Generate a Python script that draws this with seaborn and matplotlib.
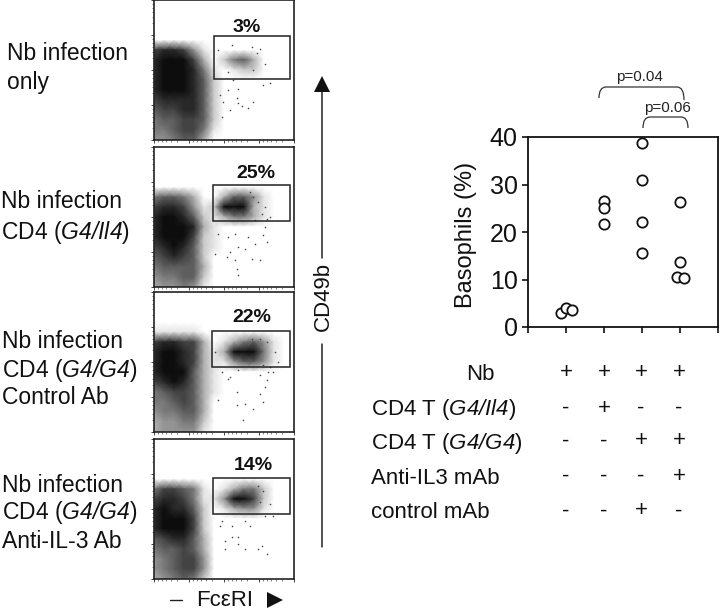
import numpy as np
import pandas as pd
import matplotlib
matplotlib.use("Agg")
import matplotlib.pyplot as plt
from matplotlib.path import Path
from matplotlib.patches import PathPatch, Rectangle
import seaborn as sns

sns.set_theme(style="white")
plt.rcParams["font.family"] = ["Liberation Sans", "DejaVu Sans"]
plt.rcParams["mathtext.fontset"] = "custom"
plt.rcParams["mathtext.rm"] = "Liberation Sans"
plt.rcParams["mathtext.it"] = "Liberation Sans:italic"
# \mathcal keeps digits italic too, \mathit would set them upright
plt.rcParams["mathtext.cal"] = "Liberation Sans:italic"

W, H = 720, 610

# =========================================================================
# DATA
# =========================================================================
# dot density of each FACS panel, read on a 10 px grid (0 = empty, 9 = black)
density_nb_only = [
    "000000000000000", "000000000000000", "000000000000000", "000000000000000",
    "000000000000000", "788741000000000", "899973025630000", "899985101220000",
    "899986200000000", "899986200000000", "788886200000000", "677886200000000",
    "566776200000000", "556775100000000", "445663000000000",
]
density_il4 = [
    "000000000000000", "000000000000000", "000000000000000", "000000000000000",
    "000000000000000", "566530036641000", "788741299931000", "899862135531000",
    "899983100000000", "899972100000000", "789862100000000", "678762000000000",
    "566663000000000", "455662000000000", "344541000000000",
]
density_control = [
    "000000000000000", "000000000000000", "000000000000000", "000000000000000",
    "111110000000000", "788773013564100", "899873139995100", "899873114664100",
    "899963100000000", "789863100000000", "567763100000000", "556763000000000",
    "455663000000000", "344552000000000", "344441000000000",
]
density_antiil3 = [
    "000000000000000", "000000000000000", "000000000000000", "000000000000000",
    "000000000000000", "577651013552000", "788751149972000", "898862013441000",
    "899972000000000", "899972000000000", "678863000000000", "566763000000000",
    "456774000000000", "456774000000000", "345652000000000",
]
panel_density = [density_nb_only, density_il4, density_control, density_antiil3]

# stray events outside the main populations (panel pixels from top left corner)
stray_nb_only = [(64, 50), (78, 45), (98, 47), (106, 49), (103, 53), (111, 64), (99, 70), (74, 72), (79, 80),
                 (109, 85), (84, 89), (74, 90), (66, 95), (69, 102), (83, 98), (84, 103), (88, 106), (94, 108),
                 (76, 110), (68, 117), (99, 102), (116, 83)]
stray_il4 = [(96, 45), (99, 50), (104, 55), (111, 60), (108, 67), (113, 72), (116, 70), (101, 73), (111, 80),
             (109, 88), (113, 95), (74, 90), (81, 87), (64, 87), (84, 100), (91, 102), (73, 110), (81, 113),
             (98, 112), (106, 113), (83, 122), (76, 105), (94, 90), (61, 107), (84, 128), (101, 97)]
stray_control = [(98, 47), (106, 47), (113, 50), (121, 60), (124, 70), (109, 73), (114, 80), (119, 80), (106, 83),
                 (113, 88), (111, 95), (84, 78), (68, 80), (76, 85), (83, 100), (91, 112), (106, 102), (109, 110),
                 (99, 117), (64, 108), (74, 87), (116, 75), (61, 60), (83, 113), (89, 128)]
stray_antiil3 = [(104, 47), (109, 52), (116, 65), (106, 63), (68, 82), (91, 82), (111, 77), (78, 87), (84, 98),
                 (71, 102), (78, 98), (71, 110), (104, 110), (108, 107), (91, 110), (84, 105), (113, 115),
                 (66, 87), (96, 87), (119, 77)]
panel_stray = [stray_nb_only, stray_il4, stray_control, stray_antiil3]

panel_pct = ["3%", "25%", "22%", "14%"]
panel_labels = [
    ["Nb infection", "only"],
    ["Nb infection", r"CD4 ($\mathcal{G4/Il4}$)"],
    ["Nb infection", r"CD4 ($\mathcal{G4/G4}$)", "Control Ab"],
    ["Nb infection", r"CD4 ($\mathcal{G4/G4}$)", "Anti-IL-3 Ab"],
]

# basophil percentages per group, x is the group index plus the plotted offset
baso_x = [-0.13, 0.0, 0.15, 1, 1, 1, 2, 2, 2, 2, 3, 3, 2.93, 3.1]
baso_y = [2.9, 4.0, 3.6, 26.6, 25.0, 21.7, 38.7, 30.9, 22.2, 15.5, 26.4, 13.7, 10.5, 10.3]

table_rows = ["Nb", r"CD4 T ($\mathcal{G4/Il4}$)", r"CD4 T ($\mathcal{G4/G4}$)", "Anti-IL3 mAb", "control mAb"]
table_signs = [
    ["+", "+", "+", "+"],
    ["-", "+", "-", "-"],
    ["-", "-", "+", "+"],
    ["-", "-", "-", "+"],
    ["-", "-", "+", "-"],
]


# =========================================================================
# LAYOUT
# =========================================================================
def axes_px(fig, left, top, right, bottom):
    return fig.add_axes([left / W, 1 - bottom / H, (right - left) / W, (bottom - top) / H])


fig = plt.figure(figsize=(W / 100, H / 100), dpi=100)

# overlay in pixel coordinates, for labels and arrows
over = fig.add_axes([0, 0, 1, 1], zorder=5)
over.set_xlim(0, W)
over.set_ylim(H, 0)
over.axis("off")
over.patch.set_alpha(0)

panel_tops = [0, 147, 292, 439]
gates = [(214, 36, 290, 79), (213, 185, 290, 221), (212, 331, 290, 367), (213, 478, 290, 514)]
pct_pos = [(247, 27), (256, 173), (252, 318), (253, 465)]
label_pos = [(7, [54, 83]), (1, [202, 232]), (2, [341, 370, 397]), (2, [485, 513, 541])]
decades = [0, 35, 70, 105, 140]
minor = [d + f for d in decades[:-1] for f in (4, 8, 12, 17, 23)]

for top, grid, stray, gate, pct, ppos, lab, lpos in zip(panel_tops, panel_density, panel_stray, gates, panel_pct,
                                                        pct_pos, panel_labels, label_pos):
    ax = axes_px(fig, 154, top, 294, top + 140)
    df = pd.DataFrame([[int(c) for c in row] for row in grid])
    sns.heatmap(df, ax=ax, cmap="gray_r", vmin=0, vmax=9.5, cbar=False, shading="gouraud",
                xticklabels=False, yticklabels=False)
    stray_df = pd.DataFrame(stray, columns=["x", "y"]) / 10
    sns.scatterplot(data=stray_df, x="x", y="y", ax=ax, s=1.3, color="#444444", linewidth=0)
    ax.set_xlabel("")
    ax.set_ylabel("")
    ax.set_xlim(0, 14)
    ax.set_ylim(14, 0)
    for s in ax.spines.values():
        s.set_visible(True)
        s.set_color("#222222")
        s.set_linewidth(1.2)
    ax.set_xticks([t / 10 for t in decades], labels=[])
    ax.set_xticks([t / 10 for t in minor], minor=True)
    ax.set_yticks([t / 10 for t in decades], labels=[])
    ax.set_yticks([t / 10 for t in minor], minor=True)
    ax.tick_params(which="major", left=True, bottom=True, length=2.5, width=0.6, direction="out")
    ax.tick_params(which="minor", left=True, bottom=True, length=1.2, width=0.4, direction="out")

    over.add_patch(Rectangle((gate[0], gate[1]), gate[2] - gate[0], gate[3] - gate[1],
                             fill=False, ec="#222222", lw=1.1))
    over.text(ppos[0], ppos[1], pct, ha="center", va="center", fontsize=14, fontweight="bold", color="#111111")
    for txt, y in zip(lab, lpos[1]):
        over.text(lpos[0], y, txt, ha="left", va="center", fontsize=16.5, color="#111111")

# CD49b arrow
over.plot([322, 322], [90, 258], color="#222222", lw=1.1)
over.plot([322], [84], marker="^", ms=12, color="#111111", ls="none", mew=0)
over.plot([322, 322], [344, 547], color="#222222", lw=1.1)
over.text(323, 296, "CD49b", rotation=90, ha="center", va="center", fontsize=16, color="#111111")

# FceRI axis label
over.plot([170, 182], [600, 600], color="#222222", lw=1.0)
over.text(225, 600, "FcεRI", ha="center", va="center", fontsize=16, color="#111111")
over.plot([275], [600], marker=">", ms=12, color="#111111", ls="none", mew=0)

# =========================================================================
# BASOPHIL SCATTER
# =========================================================================
ax2 = axes_px(fig, 528, 137, 718, 327)
sns.scatterplot(x=baso_x, y=baso_y, ax=ax2, s=55, facecolor="white", edgecolor="#111111", linewidth=1.3,
                clip_on=False, zorder=3)
ax2.set_xlim(-1, 4)
ax2.set_ylim(0, 40)
ax2.set_xticks(range(-1, 5), labels=[])
ax2.set_yticks([0, 10, 20, 30, 40])
ax2.tick_params(axis="both", left=True, bottom=True, length=4.5, width=1.2, color="#111111",
                labelsize=18, labelcolor="#111111", pad=3)
for s in ax2.spines.values():
    s.set_visible(True)
    s.set_color("#111111")
    s.set_linewidth(1.3)
ax2.set_ylabel("Basophils (%)", fontsize=17, color="#111111")
ax2.yaxis.set_label_coords(-0.27, 0.485)


def bracket(x0, x1, y_top, y0, y1):
    verts = [(x0, y0), (x0, y_top), (x0 + 7, y_top), (x1 - 7, y_top), (x1, y_top), (x1, y1)]
    codes = [Path.MOVETO, Path.CURVE3, Path.CURVE3, Path.LINETO, Path.CURVE3, Path.CURVE3]
    over.add_patch(PathPatch(Path(verts, codes), fill=False, ec="#333333", lw=0.9))


bracket(599, 684, 87, 98, 100)
bracket(643, 688, 117, 128, 128)
over.text(639, 77, "p=0.04", ha="center", va="center", fontsize=11, color="#222222")
over.text(667, 108, "p=0.06", ha="center", va="center", fontsize=11, color="#222222")

# =========================================================================
# TREATMENT TABLE
# =========================================================================
row_y = [375, 410, 443, 478, 513]
col_x = [566, 604, 641, 679]
for i, (name, signs, y) in enumerate(zip(table_rows, table_signs, row_y)):
    over.text(480 if i == 0 else 371, y, name, ha="center" if i == 0 else "left", va="center",
              fontsize=16, color="#111111")
    for s, x in zip(signs, col_x):
        over.text(x, y - 2, s, ha="center", va="center", fontsize=16, color="#111111")

fig.savefig("out.png", dpi=100)
